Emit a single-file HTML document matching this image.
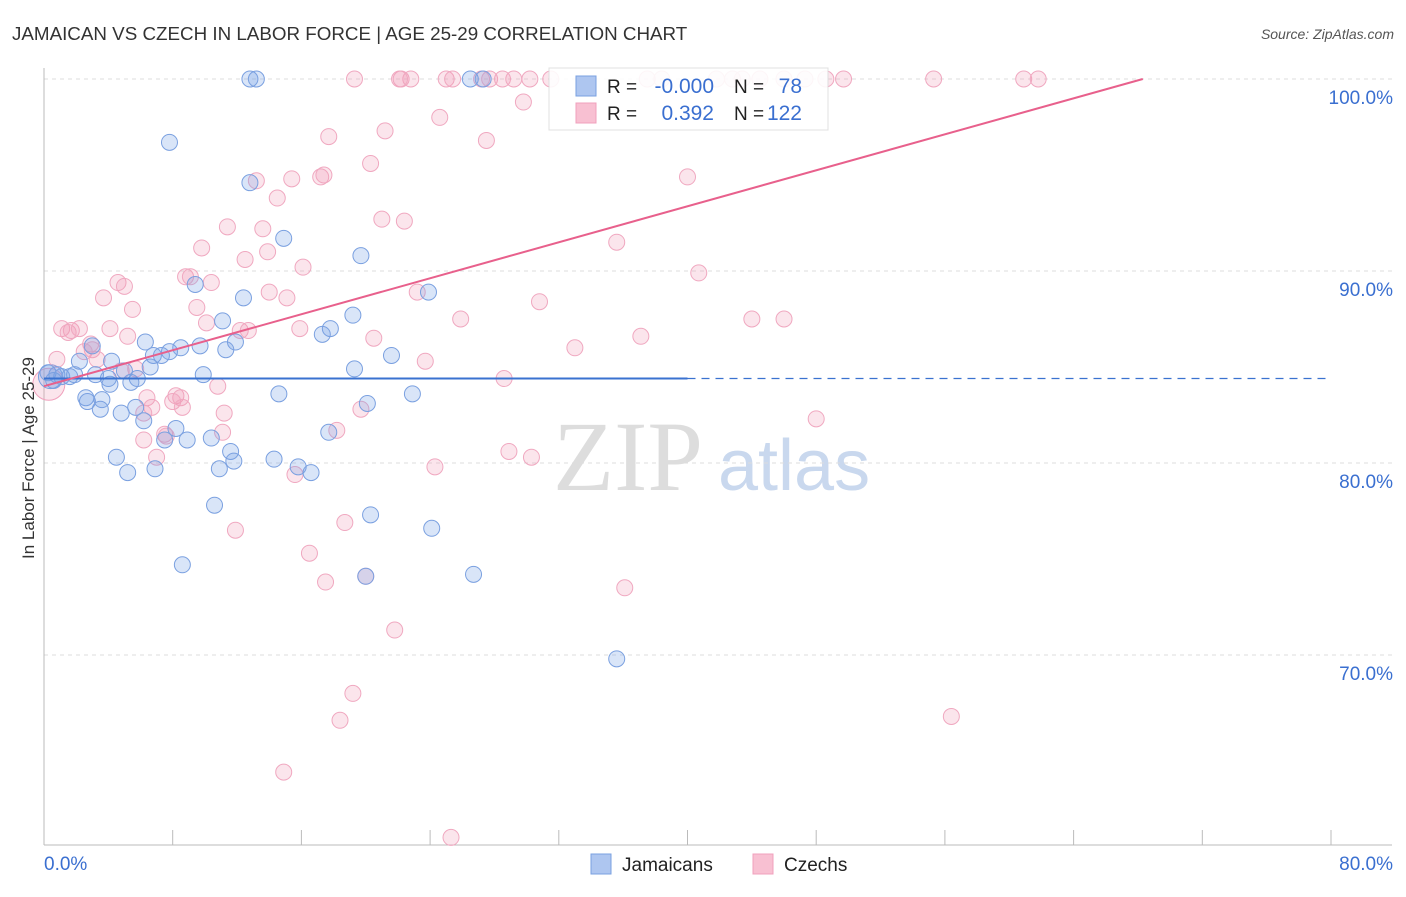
<!DOCTYPE html>
<html><head><meta charset="utf-8"><style>
body{margin:0;background:#fff;font-family:"Liberation Sans",sans-serif;}
</style></head><body>
<svg id="chart" width="1406" height="892" xmlns="http://www.w3.org/2000/svg" font-family="Liberation Sans, sans-serif">
<text x="12" y="40" font-size="18.8" fill="#333">JAMAICAN VS CZECH IN LABOR FORCE | AGE 25-29 CORRELATION CHART</text>
<text x="1394" y="39" font-size="14" fill="#555" text-anchor="end" font-style="italic">Source: ZipAtlas.com</text>
<g>
<text x="553" y="490" font-size="100" fill="#ddd" font-family="Liberation Serif, serif">ZIP</text>
<text x="718" y="490" font-size="72" fill="#c9d8ee">atlas</text>
</g>
<g id="grid"></g>
<g id="axes"></g>
<g id="points"></g>
<g id="lines"></g>
<text transform="translate(34,458) rotate(-90)" font-size="17" fill="#333" text-anchor="middle">In Labor Force | Age 25-29</text>
<g>
<rect x="549" y="68" width="279" height="62" fill="#fff" stroke="#ddd" opacity="0.9"/>
<rect x="576" y="76" width="20" height="20" fill="#aec6f0" stroke="#7aa0e0"/>
<rect x="576" y="103" width="20" height="20" fill="#f8c0d2" stroke="#f0a0bc"/>
<text x="607" y="93" font-size="19" fill="#222">R =</text>
<text x="714" y="93" font-size="21" fill="#3a6fd0" text-anchor="end">-0.000</text>
<text x="734" y="93" font-size="19" fill="#222">N =</text>
<text x="802" y="93" font-size="21" fill="#3a6fd0" text-anchor="end">78</text>
<text x="607" y="120" font-size="19" fill="#222">R =</text>
<text x="714" y="120" font-size="21" fill="#3a6fd0" text-anchor="end">0.392</text>
<text x="734" y="120" font-size="19" fill="#222">N =</text>
<text x="802" y="120" font-size="21" fill="#3a6fd0" text-anchor="end">122</text>
</g>
<g>
<rect x="591" y="854" width="20" height="20" fill="#aec6f0" stroke="#7aa0e0"/>
<text x="622" y="871" font-size="19" fill="#222">Jamaicans</text>
<rect x="753" y="854" width="20" height="20" fill="#f8c0d2" stroke="#f0a0bc"/>
<text x="784" y="871" font-size="19" fill="#222">Czechs</text>
</g>
</svg>
<script>
const yTicks=[100,90,80,70];
const yTickLabels=["100.0%","90.0%","80.0%","70.0%"];
const xTicks=[0,8,16,24,32,40,48,56,64,72,80];
const jamX=[12.8,13.2,26.5,27.3,7.8,12.8,14.9,19.7,9.4,12.4,23.9,19.2,11.1,17.8,17.3,11.9,6.3,9.7,11.3,3.0,8.5,6.8,7.8,7.3,4.2,2.2,21.6,19.3,6.6,5.0,3.2,9.9,0.25,0.8,1.1,1.6,1.9,0.6,4.0,5.8,5.4,4.1,14.6,22.9,2.6,2.7,3.6,3.5,5.7,4.8,20.1,6.2,8.2,17.7,7.5,10.4,8.9,11.6,11.8,4.5,14.3,10.9,15.8,16.6,6.9,5.2,10.6,20.3,24.1,8.6,20.0,26.7,35.6];
const jamY=[100,100,100,100,96.7,94.6,91.7,90.8,89.3,88.6,88.9,87.7,87.4,87.0,86.7,86.3,86.3,86.1,85.9,86.1,86.0,85.6,85.8,85.6,85.3,85.3,85.6,84.9,85.0,84.8,84.6,84.6,84.7,84.6,84.5,84.5,84.6,84.3,84.4,84.4,84.2,84.1,83.6,83.6,83.4,83.2,83.3,82.8,82.9,82.6,83.1,82.2,81.8,81.6,81.2,81.3,81.2,80.6,80.1,80.3,80.2,79.7,79.8,79.5,79.7,79.5,77.8,77.3,76.6,74.7,74.1,74.2,69.8];
const czX=[19.3,22.2,22.8,25.0,25.4,27.2,27.7,28.5,29.2,30.2,31.5,37.5,38.4,41.8,42.8,43.4,44.5,46.0,47.3,48.6,49.7,55.3,60.9,61.8,22.1,
29.8,24.6,17.7,21.2,27.5,20.3,13.2,15.4,17.2,17.4,40.0,14.5,21.0,22.4,11.4,13.6,9.8,12.5,13.9,35.6,16.1,8.8,9.1,40.7,10.4,4.6,5.0,3.7,14.0,15.1,23.2,9.5,30.8,5.5,25.9,44.0,46.0,10.1,1.1,1.7,1.5,2.2,4.1,15.9,12.2,12.7,5.2,20.5,37.1,2.9,3.0,2.5,33.0,0.8,3.3,23.7,5.7,4.8,10.8,28.6,8.2,6.4,8.5,8.0,6.7,8.6,19.7,6.2,18.2,11.2,48.0,7.5,11.1,6.2,7.6,7.0,28.9,30.3,24.3,15.6,11.9,18.7,16.5,17.5,20.0,36.1,21.8,19.2,18.4,56.4,14.9,25.3];
const czY=[100,100,100,100,100,100,100,100,100,100,100,100,100,100,100,100,100,100,100,100,100,100,100,100,100,
98.8,98.0,97.0,97.3,96.8,95.6,94.7,94.8,94.9,95.0,94.9,93.8,92.7,92.6,92.3,92.2,91.2,90.6,91.0,91.5,90.2,89.7,89.7,89.9,89.4,89.4,89.2,88.6,88.9,88.6,88.9,88.1,88.4,88.0,87.5,87.5,87.5,87.3,87.0,86.9,86.8,87.0,87.0,87.0,86.9,86.9,86.6,86.5,86.6,86.2,85.9,85.8,86.0,85.4,85.4,85.3,84.9,84.8,84.0,84.4,83.5,83.4,83.4,83.2,82.9,82.9,82.8,82.6,81.7,82.6,82.3,81.5,81.6,81.2,81.4,80.3,80.6,80.3,79.8,79.4,76.5,76.9,75.3,73.8,74.1,73.5,71.3,68.0,66.6,66.8,63.9,60.5];
const jamTrend=[0,84.4,40,84.4,80,84.4];
const czTrend=[0,84.0,68.3,100];
const X0=44,X1=1331,Y100=79,PXPER=19.2;
const sx=v=>X0+(X1-X0)*v/80;
const sy=v=>Y100+(100-v)*PXPER;
const NS="http://www.w3.org/2000/svg";
function mk(tag,attrs,parent){const e=document.createElementNS(NS,tag);for(const k in attrs)e.setAttribute(k,attrs[k]);parent.appendChild(e);return e;}
const grid=document.getElementById('grid'),axes=document.getElementById('axes'),pts=document.getElementById('points'),lines=document.getElementById('lines');
yTicks.forEach((t,i)=>{
 const l=mk('line',{x1:44,x2:1392,y1:sy(t),y2:sy(t),stroke:'#ddd','stroke-dasharray':'4,4'},grid);
 
 
 const tx=mk('text',{x:1393,y:sy(t)+25,'font-size':19,fill:'#3a6fd0','text-anchor':'end'},axes);
 tx.textContent=yTickLabels[i];
 
 
});
const ya=mk('line',{x1:44,x2:44,y1:68,y2:845,stroke:'#bbb'},axes);


const xa=mk('line',{x1:44,x2:1392,y1:845,y2:845,stroke:'#bbb'},axes);


xTicks.forEach(t=>{
 const l=mk('line',{x1:sx(t),x2:sx(t),y1:830,y2:845,stroke:'#bbb'},axes);
 
 
});
const xl0=mk('text',{x:44,y:870,'font-size':19,fill:'#3a6fd0'},axes);xl0.textContent='0.0%';


const xl1=mk('text',{x:1393,y:870,'font-size':19,fill:'#3a6fd0','text-anchor':'end'},axes);xl1.textContent='80.0%';


const b1=mk('circle',{cx:sx(0.3),cy:sy(84.1),r:16,fill:'rgba(240,150,180,0.25)',stroke:'#f0a0bc'},pts);


const b2=mk('circle',{cx:sx(0.4),cy:sy(84.5),r:12,fill:'rgba(120,160,230,0.25)',stroke:'#7aa0e0'},pts);


czX.forEach((v,i)=>{
 const c=mk('circle',{cx:sx(v),cy:sy(czY[i]),r:8,fill:'rgba(240,150,180,0.25)',stroke:'#f0a8c0','stroke-width':1},pts);
 
 
});
jamX.forEach((v,i)=>{
 const c=mk('circle',{cx:sx(v),cy:sy(jamY[i]),r:8,fill:'rgba(120,160,230,0.28)',stroke:'#7aa0e0','stroke-width':1},pts);
 
 
});
const jl=mk('line',{x1:sx(jamTrend[0]),y1:sy(jamTrend[1]),x2:sx(jamTrend[2]),y2:sy(jamTrend[3]),stroke:'#3a72d0','stroke-width':2},lines);


const jd=mk('line',{x1:sx(jamTrend[2]),y1:sy(jamTrend[3]),x2:sx(jamTrend[4]),y2:sy(jamTrend[5]),stroke:'#3a72d0','stroke-width':1.3,'stroke-dasharray':'8,6'},lines);


const cl=mk('line',{x1:sx(czTrend[0]),y1:sy(czTrend[1]),x2:sx(czTrend[2]),y2:sy(czTrend[3]),stroke:'#e8608c','stroke-width':2},lines);


</script>
</body></html>
